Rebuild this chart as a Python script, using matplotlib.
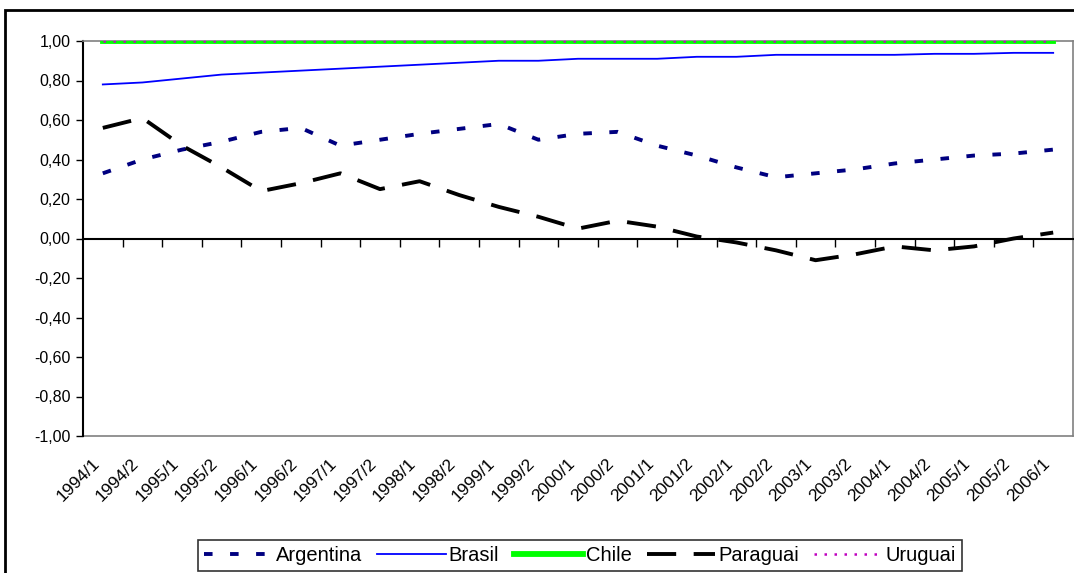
import matplotlib.pyplot as plt
from matplotlib.patches import Rectangle
from matplotlib.ticker import FixedLocator

plt.rcParams['font.family'] = ['Liberation Sans', 'DejaVu Sans']

# semesters
periods = ['1994/1', '1994/2', '1995/1', '1995/2', '1996/1', '1996/2', '1997/1',
           '1997/2', '1998/1', '1998/2', '1999/1', '1999/2', '2000/1', '2000/2',
           '2001/1', '2001/2', '2002/1', '2002/2', '2003/1', '2003/2', '2004/1',
           '2004/2', '2005/1', '2005/2', '2006/1']

argentina = [0.33, 0.40, 0.45, 0.49, 0.54, 0.56, 0.47, 0.50, 0.53, 0.555, 0.58, 0.50,
             0.53, 0.54, 0.47, 0.42, 0.36, 0.31, 0.33, 0.35, 0.38, 0.40, 0.42, 0.43, 0.45]
brasil = [0.78, 0.79, 0.81, 0.83, 0.84, 0.85, 0.86, 0.87, 0.88, 0.89, 0.90, 0.90,
          0.91, 0.91, 0.91, 0.92, 0.92, 0.93, 0.93, 0.93, 0.93, 0.935, 0.935, 0.94, 0.94]
chile = [1.00] * 25
paraguai = [0.56, 0.61, 0.47, 0.36, 0.24, 0.28, 0.33, 0.25, 0.29, 0.22, 0.16, 0.11,
            0.05, 0.09, 0.06, 0.01, -0.02, -0.06, -0.11, -0.08, -0.04, -0.06, -0.04, 0.00, 0.03]
uruguai = [1.00] * 25

yticks = [-1.0, -0.8, -0.6, -0.4, -0.2, 0.0, 0.2, 0.4, 0.6, 0.8, 1.0]

W, H = 1074, 573
fig = plt.figure(figsize=(W / 100, H / 100), dpi=100)
ax = fig.add_axes([83 / W, 1 - 436 / H, 990 / W, 395 / H])

x = list(range(len(periods)))
ax.plot(x, chile, color='#00ff00', lw=4.2, label='Chile', zorder=3)
ax.plot(x, uruguai, color='#c000c0', lw=1.8, ls=(0, (1.0, 3)), label='Uruguai', zorder=4)
ax.plot(x, brasil, color='#0000ff', lw=1.3, label='Brasil', zorder=3)
ax.plot(x, argentina, color='#000080', lw=2.8, ls=(0, (2.2, 4.5)), label='Argentina', zorder=3)
ax.plot(x, paraguai, color='black', lw=2.8, ls=(0, (7.5, 4.5)), label='Paraguai', zorder=3)

ax.set_xlim(-0.5, len(periods) - 0.5)
ax.set_ylim(-1, 1)

# y axis
ax.set_yticks(yticks)
ax.set_yticklabels([f'{v:.2f}'.replace('.', ',') for v in yticks])
ax.tick_params(axis='y', length=5, width=1, labelsize=11.5, pad=4)

# category axis crosses at zero, tick marks between categories
ax.spines['bottom'].set_position(('data', 0))
ax.spines['bottom'].set_linewidth(1.5)
ax.spines['left'].set_linewidth(1.5)
ax.set_xticks(x)
ax.tick_params(axis='x', which='major', length=0, labelbottom=False)
ax.xaxis.set_minor_locator(FixedLocator([i + 0.5 for i in x[:-1]]))
ax.tick_params(axis='x', which='minor', length=6, width=1, direction='out')
for s in ['top', 'right']:
    ax.spines[s].set_color('#808080')
    ax.spines[s].set_linewidth(1.2)

# labels at the bottom of the plot area
sec = ax.secondary_xaxis('bottom')
sec.set_xticks([i - 0.15 for i in x])
sec.set_xticklabels(periods, rotation=45, ha='right', va='center', rotation_mode='anchor')
sec.tick_params(axis='x', length=0, labelsize=12.5, pad=18)
sec.spines['bottom'].set_color('#808080')
sec.spines['bottom'].set_linewidth(1.2)

# legend below
h, l = ax.get_legend_handles_labels()
order = ['Argentina', 'Brasil', 'Chile', 'Paraguai', 'Uruguai']
hh = [h[l.index(n)] for n in order]
leg = fig.legend(hh, order, loc='lower center', bbox_to_anchor=(580 / W, 0),
                 ncol=5, frameon=True, fancybox=False, edgecolor='black',
                 fontsize=14.5, handlelength=3.4, handletextpad=0.15,
                 columnspacing=0.75, borderpad=0.3, borderaxespad=0.1)
leg.get_frame().set_linewidth(1.2)

# outer chart border
fig.patches.append(Rectangle((5 / W, -0.1), 1.2, 1.1 - 10 / H, transform=fig.transFigure,
                             fill=False, edgecolor='black', lw=2, clip_on=False))

fig.savefig('out.png', dpi=100)
